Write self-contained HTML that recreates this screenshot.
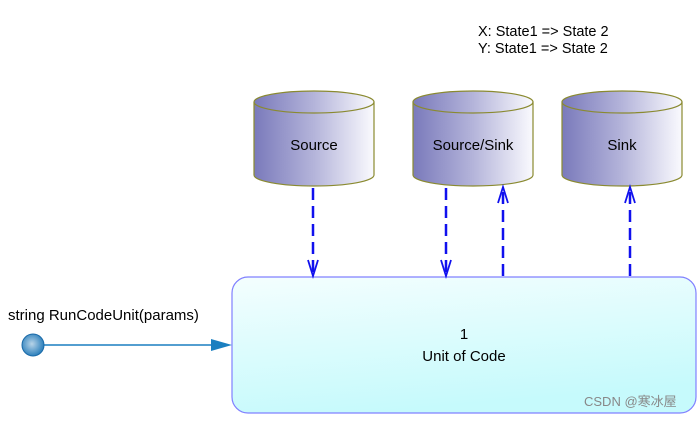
<!DOCTYPE html>
<html><head><style>body{margin:0;background:#fff;width:700px;height:417px;overflow:hidden}</style></head><body>
<svg width="700" height="417" xmlns="http://www.w3.org/2000/svg" font-family="Liberation Sans, sans-serif">
<defs>
<linearGradient id="cyl" x1="0" x2="1" y1="0" y2="0"><stop offset="0" stop-color="#7a7abb"/><stop offset="0.5" stop-color="#b4b4da"/><stop offset="1" stop-color="#fafafe"/></linearGradient>
<linearGradient id="box" x1="0" y1="0" x2="0.3" y2="1"><stop offset="0" stop-color="#f4fefe"/><stop offset="1" stop-color="#c6fafc"/></linearGradient>
<radialGradient id="dot" cx="0.45" cy="0.45" r="0.6"><stop offset="0" stop-color="#b8d4e8"/><stop offset="1" stop-color="#1f78b8"/></radialGradient>
</defs>
<text x="478" y="36" font-size="14.5">X: State1 =&gt; State 2</text>
<text x="478" y="53" font-size="14.5">Y: State1 =&gt; State 2</text>
<g stroke="#8a8a30" stroke-width="1.2">
<path d="M254,102 V175 A60,11 0 0 0 374,175 V102 A60,11 0 0 0 254,102 Z" fill="url(#cyl)"/>
<path d="M254,102 A60,11 0 0 0 374,102" fill="none"/>
<path d="M413,102 V175 A60,11 0 0 0 533,175 V102 A60,11 0 0 0 413,102 Z" fill="url(#cyl)"/>
<path d="M413,102 A60,11 0 0 0 533,102" fill="none"/>
<path d="M562,102 V175 A60,11 0 0 0 682,175 V102 A60,11 0 0 0 562,102 Z" fill="url(#cyl)"/>
<path d="M562,102 A60,11 0 0 0 682,102" fill="none"/>
</g>
<g font-size="15" text-anchor="middle" fill="#000">
<text x="314" y="150">Source</text>
<text x="473" y="150">Source/Sink</text>
<text x="622" y="150">Sink</text>
</g>
<rect x="232" y="277" width="464" height="136" rx="16" fill="url(#box)" stroke="#8080ff" stroke-width="1.2"/>
<text x="464" y="339" font-size="15" text-anchor="middle">1</text>
<text x="464" y="361" font-size="15" text-anchor="middle">Unit of Code</text>
<g stroke="#1010ee" stroke-width="2.5" stroke-dasharray="12,6" fill="none">
<line x1="313" y1="188" x2="313" y2="276"/>
<line x1="446" y1="188" x2="446" y2="276"/>
<line x1="503" y1="276" x2="503" y2="188"/>
<line x1="630" y1="276" x2="630" y2="188"/>
</g>
<g stroke="#1010ee" stroke-width="1.8" fill="none">
<path d="M308,260 L313,276 L318,260"/>
<path d="M441,260 L446,276 L451,260"/>
<path d="M498,203 L503,187 L508,203"/>
<path d="M625,203 L630,187 L635,203"/>
</g>
<text x="8" y="320" font-size="15">string RunCodeUnit(params)</text>
<line x1="44" y1="345" x2="215" y2="345" stroke="#1a7fc0" stroke-width="1.5"/>
<path d="M211,339 L232,345 L211,351 Z" fill="#1a7fc0"/>
<circle cx="33" cy="345" r="11" fill="url(#dot)" stroke="#1a6aa8" stroke-width="1"/>
<text x="584" y="406" font-size="13" fill="#888" font-family="Liberation Sans, Noto Sans CJK SC, sans-serif">CSDN @寒冰屋</text>
</svg>
</body></html>
